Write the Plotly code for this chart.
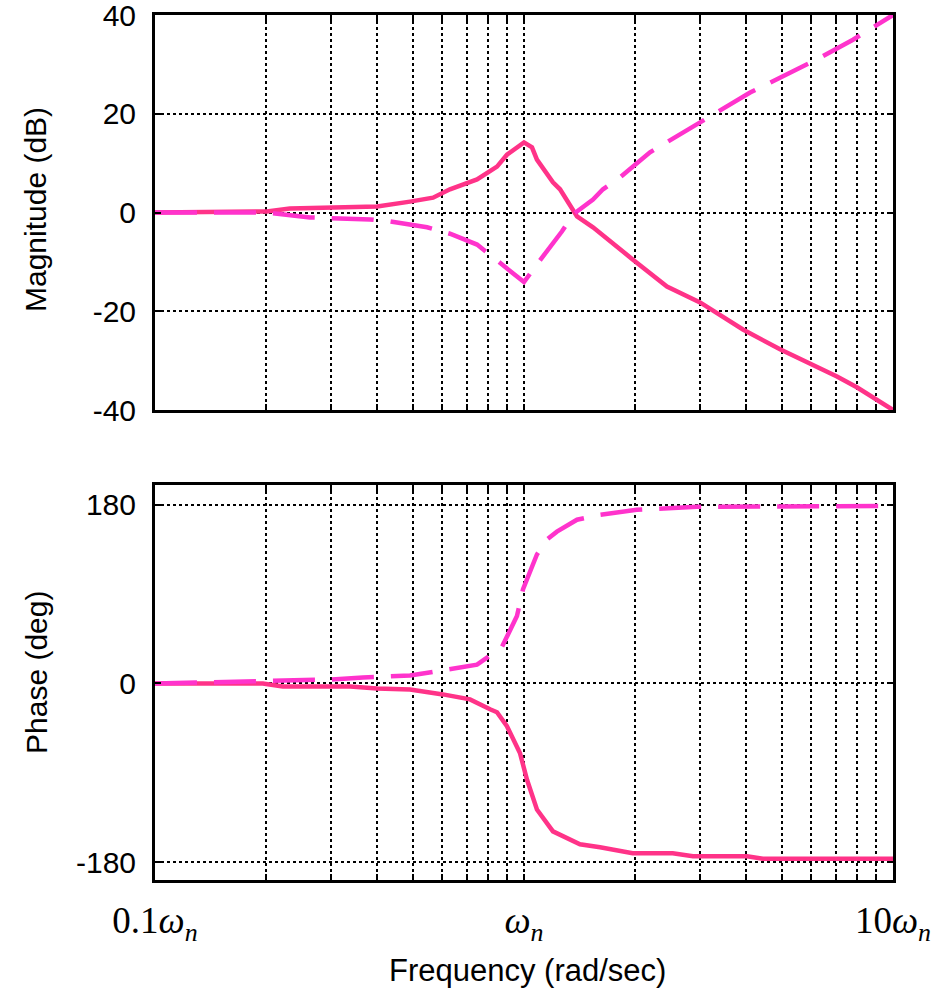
import plotly.graph_objects as go

# ---- data ----
mag_solid_f = [0.1, 0.201, 0.232, 0.311, 0.400, 0.491, 0.567, 0.630, 0.746, 0.845, 0.899, 1.0,
               1.051, 1.084, 1.198, 1.252, 1.392, 1.538, 1.82, 1.97, 2.44, 3.0, 3.92, 4.94, 7.05, 7.98, 10.0]
mag_solid_db = [0, 0.2, 0.8, 1.0, 1.2, 2.2, 3.0, 4.7, 6.7, 9.3, 11.7, 14.2,
                13.2, 10.7, 6.1, 4.7, -0.8, -3.0, -7.5, -9.5, -15.0, -18.2, -23.7, -27.7, -33.2, -35.4, -40.0]

mag_dash_f = [0.1, 0.201, 0.263, 0.383, 0.433, 0.546, 0.630, 0.746, 0.794, 0.850, 0.975, 1.0,
              1.084, 1.268, 1.358, 1.538, 1.637, 1.82, 2.195, 3.0, 4.10, 6.07, 7.79, 10.0]
mag_dash_db = [0, 0, -1.0, -1.4, -1.8, -3.0, -4.3, -6.5, -8.1, -9.9, -13.6, -14.1,
               -10.5, -3.8, -0.4, 2.6, 4.7, 7.1, 12.2, 18.2, 24.3, 30.6, 35.0, 40.0]

ph_solid_f = [0.1, 0.196, 0.222, 0.338, 0.400, 0.491, 0.603, 0.714, 0.809, 0.845, 0.899, 0.975,
              1.019, 1.084, 1.198, 1.418, 1.607, 1.97, 2.53, 2.87, 4.02, 4.44, 10.0]
ph_solid_deg = [0, 0, -3, -3, -5, -6, -11, -16, -26, -29, -43, -70,
                -97, -127, -149, -162, -165, -171, -171, -174, -174, -176.5, -176.5]

ph_dash_f = [0.1, 0.209, 0.298, 0.366, 0.491, 0.618, 0.746, 0.794, 0.872, 0.957, 0.994,
             1.084, 1.154, 1.228, 1.392, 1.607, 2.02, 2.94, 4.17, 6.07, 10.0]
ph_dash_deg = [0, 3, 4, 6, 8, 14, 19, 26, 37, 68, 95,
               130, 145, 153, 165, 170, 175, 178, 178, 179, 179]

x_major_vals = [0.1, 1, 10]
x_major_text = ["0.1<i>ω</i><sub><i>n</i></sub>", "<i>ω</i><sub><i>n</i></sub>",
                "10<i>ω</i><sub><i>n</i></sub>"]
x_minor_vals = [0.2, 0.3, 0.4, 0.5, 0.6, 0.7, 0.8, 0.9, 2, 3, 4, 5, 6, 7, 8, 9]
mag_ticks = [-40, -20, 0, 20, 40]
mag_ticktext = ["-40", "-20", "0", "20", "40"]
ph_ticks = [-180, 0, 180]
ph_ticktext = ["-180", "0", "180"]

SOLID = "#ff3388"
DASH = "#ff33cc"

W, H = 942, 992
x0, x1 = 155 / W, 893 / W
top_dom = [1 - 410 / H, 1 - 15 / H]
bot_dom = [1 - 880 / H, 1 - 485 / H]

fig = go.Figure()
fig.add_trace(go.Scatter(x=mag_solid_f, y=mag_solid_db, mode="lines",
                         line=dict(color=SOLID, width=4.5), xaxis="x", yaxis="y", showlegend=False))
fig.add_trace(go.Scatter(x=mag_dash_f, y=mag_dash_db, mode="lines",
                         line=dict(color=DASH, width=4.5, dash="42px,17px"), xaxis="x", yaxis="y",
                         showlegend=False))
fig.add_trace(go.Scatter(x=ph_solid_f, y=ph_solid_deg, mode="lines",
                         line=dict(color=SOLID, width=4.5), xaxis="x2", yaxis="y2", showlegend=False))
fig.add_trace(go.Scatter(x=ph_dash_f, y=ph_dash_deg, mode="lines",
                         line=dict(color=DASH, width=4.5, dash="42px,17px"), xaxis="x2", yaxis="y2",
                         showlegend=False))

grid_style = dict(showgrid=True, gridcolor="black", gridwidth=2, griddash="dot")
tick_style = dict(ticks="inside", ticklen=6, tickwidth=2, tickcolor="black")

common_x = dict(type="log", range=[-1, 1], domain=[x0, x1], tickmode="array", tickvals=x_major_vals,
                **grid_style, **tick_style,
                minor=dict(tickmode="array", tickvals=x_minor_vals, **grid_style, **tick_style),
                showline=True, linecolor="black", linewidth=3, mirror="ticks",
                zeroline=False, automargin=False, ticklabeloverflow="allow")
common_y = dict(**grid_style, **tick_style,
                showline=True, linecolor="black", linewidth=3, mirror="ticks",
                zeroline=False,
                tickfont=dict(family="Liberation Sans, Arial", size=30, color="black"),
                ticklabelstandoff=10, automargin=False, ticklabeloverflow="allow")

fig.update_layout(
    width=W, height=H, margin=dict(l=0, r=0, t=0, b=0),
    paper_bgcolor="white", plot_bgcolor="white",
    xaxis=dict(common_x, anchor="y", showticklabels=False),
    yaxis=dict(common_y, domain=top_dom, range=[-40, 40], tickvals=mag_ticks,
               ticktext=mag_ticktext, anchor="x"),
    xaxis2=dict(common_x, anchor="y2", ticktext=x_major_text, showticklabels=True,
                tickfont=dict(family="Liberation Serif, Times New Roman", size=37, color="black"),
                ticklabelstandoff=6),
    yaxis2=dict(common_y, domain=bot_dom, range=[-198, 200], tickvals=ph_ticks,
                ticktext=ph_ticktext, anchor="x2"),
    annotations=[
        dict(text="Magnitude (dB)", x=36 / W, y=1 - 210 / H, xref="paper", yref="paper",
             textangle=-90, showarrow=False, xanchor="center", yanchor="middle",
             font=dict(family="Liberation Sans, Arial", size=30, color="black")),
        dict(text="Phase (deg)", x=36 / W, y=1 - 673 / H, xref="paper", yref="paper",
             textangle=-90, showarrow=False, xanchor="center", yanchor="middle",
             font=dict(family="Liberation Sans, Arial", size=30, color="black")),
        dict(text="Frequency (rad/sec)", x=527 / W, y=1 - 970 / H, xref="paper", yref="paper",
             showarrow=False, xanchor="center", yanchor="middle",
             font=dict(family="Liberation Sans, Arial", size=31, color="black")),
    ],
)

fig.write_html("out.html")
